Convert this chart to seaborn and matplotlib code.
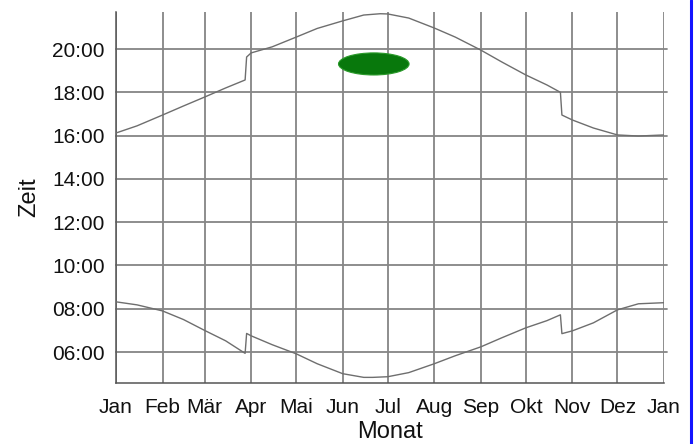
import matplotlib
matplotlib.use("Agg")
import matplotlib.pyplot as plt
from matplotlib.patches import Ellipse
from matplotlib.lines import Line2D
from matplotlib.ticker import FixedLocator, MultipleLocator
import pandas as pd
import seaborn as sns

# Day of year (0 = 1 Jan) with clock times in hours (local time, incl. DST jumps)
sunset_days = [0, 14, 31, 45, 59, 73, 86, 87, 90, 104, 120, 134, 151, 165, 176, 181,
               195, 212, 226, 243, 257, 273, 287, 296, 297, 304, 318, 334, 348, 365]
sunset_hours = [16.12, 16.45, 16.95, 17.37, 17.78, 18.20, 18.57, 19.63, 19.82, 20.10,
                20.55, 20.95, 21.30, 21.57, 21.63, 21.62, 21.43, 20.97, 20.55, 19.95,
                19.40, 18.80, 18.34, 18.00, 16.95, 16.72, 16.35, 16.03, 15.98, 16.03]

sunrise_days = [0, 14, 31, 45, 59, 73, 86, 87, 90, 104, 120, 134, 151, 165, 171, 181,
                195, 212, 226, 243, 257, 273, 287, 296, 297, 304, 318, 334, 348, 365]
sunrise_hours = [8.32, 8.18, 7.90, 7.50, 7.00, 6.52, 5.94, 6.86, 6.75, 6.34, 5.92, 5.46,
                 5.00, 4.83, 4.83, 4.86, 5.05, 5.46, 5.83, 6.24, 6.66, 7.12, 7.45, 7.72,
                 6.85, 6.98, 7.35, 7.95, 8.23, 8.28]

month_starts = [0, 31, 59, 90, 120, 151, 181, 212, 243, 273, 304, 334, 365]
month_labels = ["Jan", "Feb", "Mär", "Apr", "Mai", "Jun", "Jul", "Aug",
                "Sep", "Okt", "Nov", "Dez", "Jan"]
hour_ticks = [6, 8, 10, 12, 14, 16, 18, 20]

# Highlighted evening window around midsummer
blob_center = (171.7, 19.31)
blob_size = (47.0, 1.02)

sns.set_style("white")
plt.rcParams["font.family"] = ["Liberation Sans", "DejaVu Sans"]

df = pd.concat([
    pd.DataFrame({"Tag": sunset_days, "Zeit": sunset_hours, "Kurve": "Untergang"}),
    pd.DataFrame({"Tag": sunrise_days, "Zeit": sunrise_hours, "Kurve": "Aufgang"}),
], ignore_index=True)

fig = plt.figure(figsize=(6.99, 4.44), dpi=100)
ax = fig.add_axes([116 / 699, 61 / 444, 548 / 699, 371 / 444])

grid_col = "#858585"
for m in month_starts:
    ax.axvline(m, color=grid_col, lw=1.3, zorder=1)
for h in hour_ticks:
    ax.axhline(h, color=grid_col, lw=1.3, zorder=1, xmax=1.006, clip_on=False)

sns.lineplot(data=df, x="Tag", y="Zeit", units="Kurve", estimator=None, sort=False,
             color="#6e6e6e", lw=1.0, ax=ax, zorder=3, legend=False)

ax.add_patch(Ellipse(blob_center, blob_size[0], blob_size[1],
                     facecolor="#08780c", edgecolor="#2a9a2a", lw=0.8, zorder=4))

ax.set_xlim(0, 365)
ax.set_ylim(4.57, 21.71)

ax.xaxis.set_major_locator(FixedLocator(month_starts))
ax.set_xticklabels(month_labels)
ax.xaxis.set_minor_locator(MultipleLocator(7))
ax.yaxis.set_major_locator(FixedLocator(hour_ticks))
ax.set_yticklabels([f"{h:02d}:00" for h in hour_ticks])
ax.yaxis.set_minor_locator(MultipleLocator(1 / 3))

ax.tick_params(axis="both", which="major", direction="out", length=6, width=1.0,
               color="#555555", labelsize=15, labelcolor="#111111")
ax.tick_params(axis="both", which="minor", direction="out", length=3.5, width=0.8,
               color="#666666")
ax.tick_params(axis="x", pad=5)
ax.tick_params(axis="y", pad=2)

for side in ("top", "right"):
    ax.spines[side].set_visible(False)
for side in ("left", "bottom"):
    ax.spines[side].set_color("#555555")
    ax.spines[side].set_linewidth(1.1)

ax.set_xlabel("Monat", fontsize=17, labelpad=3, color="#111111")
ax.set_ylabel("Zeit", fontsize=17, labelpad=9, color="#111111")

# blue frame line at the right edge
fig.add_artist(Line2D([691 / 699, 691 / 699], [0, 1], transform=fig.transFigure,
                      color="#1414ff", lw=2.2))

fig.savefig("out.png", dpi=100, facecolor="white")
